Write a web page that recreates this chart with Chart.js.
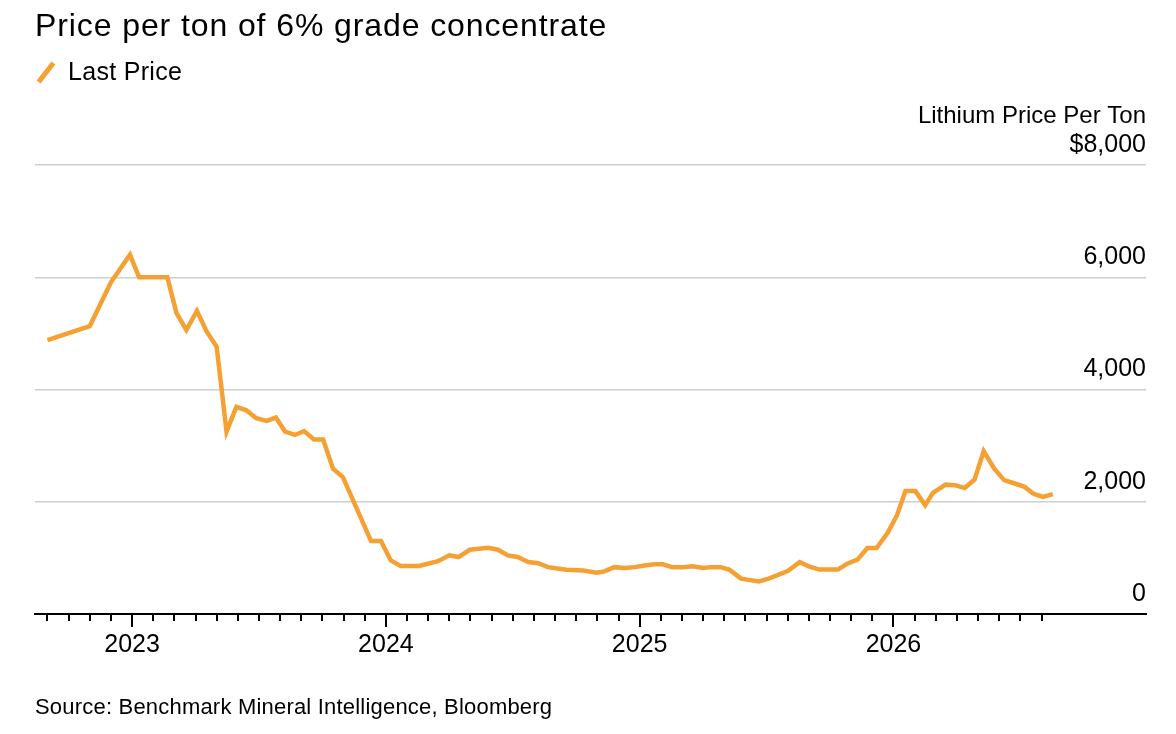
<!DOCTYPE html>
<html>
<head>
<meta charset="utf-8">
<script src="https://cdn.jsdelivr.net/npm/chart.js@4.4.1/dist/chart.umd.min.js"></script>
<style>
  html, body { margin: 0; padding: 0; background: #fff; }
  body { width: 1176px; height: 734px; position: relative; overflow: hidden; font-family: 'Liberation Sans', Arial, sans-serif; color: #000; }
  #chart { position: absolute; left: 0; top: 0; }
  .txt { position: absolute; white-space: nowrap; line-height: 1; }
  #title { left: 35px; top: 9px; font-size: 32px; letter-spacing: 0.9px; }
  #legend { left: 68px; top: 59px; font-size: 25px; letter-spacing: 0.3px; }
  #legend-mark { position: absolute; left: 34px; top: 70px; width: 24px; height: 5px; background: #f5a033; transform: rotate(-52deg); }
  #source { left: 35px; top: 696px; font-size: 22px; letter-spacing: 0.2px; }
</style>
</head>
<body>
<canvas id="chart" width="1176" height="734"></canvas>
<div class="txt" id="title">Price per ton of 6% grade concentrate</div>
<div id="legend-mark"></div>
<div class="txt" id="legend">Last Price</div>
<div class="txt" id="source">Source: Benchmark Mineral Intelligence, Bloomberg</div>
<script>
const dates = [
  '2022-09-01', '2022-11-01', '2022-12-01', '2022-12-28', '2023-01-11', '2023-02-21',
  '2023-03-04', '2023-03-18', '2023-04-03', '2023-04-17', '2023-05-01', '2023-05-15',
  '2023-05-29', '2023-06-13', '2023-06-27', '2023-07-12', '2023-07-25', '2023-08-08',
  '2023-08-22', '2023-09-05', '2023-09-19', '2023-10-02', '2023-10-16', '2023-10-30',
  '2023-12-10', '2023-12-24', '2024-01-08', '2024-01-22', '2024-02-18', '2024-03-15',
  '2024-04-01', '2024-04-14', '2024-04-30', '2024-05-26', '2024-06-10', '2024-06-24',
  '2024-07-08', '2024-07-23', '2024-08-07', '2024-08-21', '2024-09-17', '2024-10-11',
  '2024-10-30', '2024-11-11', '2024-11-25', '2024-12-10', '2024-12-24', '2025-01-08',
  '2025-01-22', '2025-02-04', '2025-02-17', '2025-03-02', '2025-03-16', '2025-03-31',
  '2025-04-12', '2025-04-26', '2025-05-08', '2025-05-25', '2025-06-20', '2025-07-04',
  '2025-08-01', '2025-08-18', '2025-09-01', '2025-09-16', '2025-10-12', '2025-10-26',
  '2025-11-10', '2025-11-24', '2025-12-07', '2025-12-23', '2026-01-06', '2026-01-18',
  '2026-02-02', '2026-02-16', '2026-02-27', '2026-03-15', '2026-03-28', '2026-04-12',
  '2026-04-26', '2026-05-09', '2026-05-24', '2026-06-08', '2026-06-23', '2026-07-07',
  '2026-07-19', '2026-08-03', '2026-08-17'
];

// last price, $ per ton
const prices = [
  4880, 5130, 5910, 6400, 6000, 6000,
  5360, 5060, 5400, 5030, 4760, 3250,
  3690, 3630, 3490, 3440, 3500, 3250,
  3190, 3260, 3110, 3110, 2590, 2440,
  1300, 1300, 955, 855, 855, 940,
  1045, 1015, 1145, 1180, 1145, 1045,
  1015, 925, 905, 835, 790, 775,
  735, 760, 835, 820, 835, 865,
  885, 885, 835, 835, 850, 820,
  835, 835, 790, 630, 580, 630,
  765, 925, 850, 792, 792, 900,
  968, 1175, 1175, 1450, 1760, 2190,
  2190, 1940, 2160, 2305, 2295, 2245,
  2395, 2900, 2590, 2385, 2325, 2265,
  2145, 2085, 2135
];

const yearLabels = ['2023', '2024', '2025', '2026'];
const yTicks = [0, 2000, 4000, 6000, 8000];
const lineColor = '#f5a033';

// months counted from Jan 2023
function monthIndex(d) {
  const [y, m, day] = d.split('-').map(Number);
  return (y - 2023) * 12 + (m - 1) + (day - 1) / 30;
}

const points = dates.map((d, i) => ({ x: monthIndex(d), y: prices[i] }));

// monthly tick positions, Sep 2022 .. Aug 2026
const monthTicks = [];
for (let m = -4; m <= 43; m++) monthTicks.push(m);

const FONT = "'Liberation Sans', Arial, sans-serif";

// draws the short month ticks and longer year ticks under the axis
const tickMarks = {
  id: 'tickMarks',
  afterDraw(chart) {
    const { ctx, chartArea, scales } = chart;
    const x = scales.x;
    ctx.save();
    ctx.strokeStyle = '#000';
    ctx.lineWidth = 2;
    monthTicks.forEach(m => {
      const px = Math.round(x.getPixelForValue(m));
      const len = m % 12 === 0 ? 13 : 7;
      ctx.beginPath();
      ctx.moveTo(px, chartArea.bottom);
      ctx.lineTo(px, chartArea.bottom + len);
      ctx.stroke();
    });
    // axis title above the top label
    ctx.fillStyle = '#000';
    ctx.font = '24px ' + FONT;
    ctx.textAlign = 'right';
    ctx.textBaseline = 'middle';
    ctx.fillText('Lithium Price Per Ton', chartArea.right, scales.y.getPixelForValue(8000) - 49);
    ctx.restore();
  }
};

const chart = new Chart(document.getElementById('chart'), {
  type: 'line',
  data: {
    datasets: [{
      label: 'Last Price',
      data: points,
      borderColor: lineColor,
      borderWidth: 4.5,
      pointRadius: 0,
      tension: 0,
      fill: false,
      borderJoinStyle: 'miter'
    }]
  },
  options: {
    responsive: false,
    animation: false,
    layout: { padding: { left: 35, right: 30, top: 165, bottom: 0 } },
    plugins: {
      legend: { display: false },
      tooltip: { enabled: false }
    },
    scales: {
      x: {
        type: 'linear',
        min: -4.59,
        max: 47.94,
        afterBuildTicks: scale => {
          scale.ticks = monthTicks.map(v => ({ value: v }));
        },
        afterFit: scale => { scale.height = 120; },
        grid: {
          display: true,
          drawOnChartArea: false,
          drawTicks: true,
          tickLength: 13,
          tickColor: 'rgba(0,0,0,0)'
        },
        border: { display: true, color: '#000', width: 2 },
        ticks: {
          autoSkip: false,
          maxRotation: 0,
          padding: 3,
          color: '#000',
          font: { family: FONT, size: 25 },
          callback: v => (v % 12 === 0 ? yearLabels[v / 12] : '')
        }
      },
      y: {
        position: 'right',
        min: 0,
        max: 8000,
        afterBuildTicks: scale => {
          scale.ticks = yTicks.map(v => ({ value: v }));
        },
        afterFit: scale => { scale.width = 0; },
        grid: {
          drawTicks: false,
          lineWidth: 1.5,
          color: ctx => (ctx.tick && ctx.tick.value === 0 ? 'rgba(0,0,0,0)' : '#cfcfcf')
        },
        border: { display: false },
        ticks: {
          mirror: true,
          padding: 0,
          labelOffset: -20,
          color: '#000',
          font: { family: FONT, size: 25 },
          callback: v => (v === 8000 ? '$' : '') + v.toLocaleString('en-US')
        }
      }
    }
  },
  plugins: [tickMarks]
});
</script>
</body>
</html>
